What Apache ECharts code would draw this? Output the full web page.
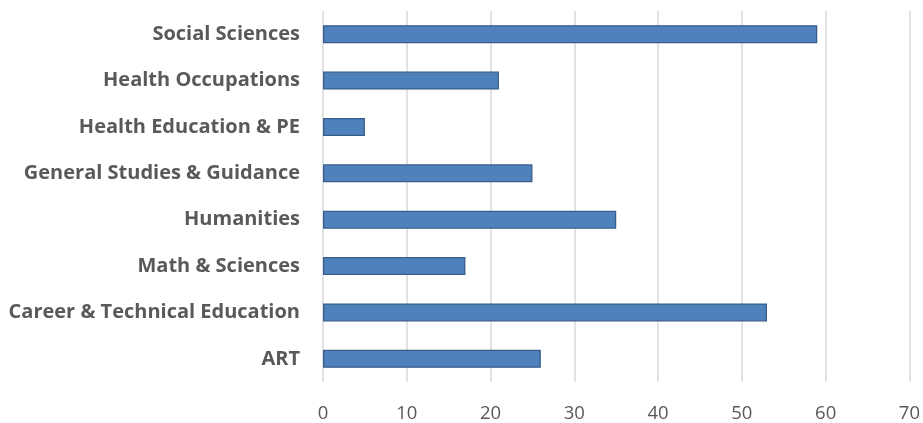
<!DOCTYPE html>
<html>
<head>
<meta charset="utf-8">
<script src="https://cdn.jsdelivr.net/npm/echarts@6/dist/echarts.min.js"></script>
<style>
  html, body { margin: 0; padding: 0; background: #fff; }
  #chart { width: 923px; height: 423px; }
</style>
</head>
<body>
<div id="chart"></div>
<script>
// Departments, listed top to bottom
const categories = [
  'Social Sciences',
  'Health Occupations',
  'Health Education & PE',
  'General Studies & Guidance',
  'Humanities',
  'Math & Sciences',
  'Career & Technical Education',
  'ART'
];
const values = [59, 21, 5, 25, 35, 17, 53, 26];
const xTicks = { min: 0, max: 70, interval: 10 };

const chart = echarts.init(document.getElementById('chart'));
chart.setOption({
  animation: false,
  grid: { left: 323, right: 13, top: 11, bottom: 41, containLabel: false },
  xAxis: {
    type: 'value',
    min: xTicks.min,
    max: xTicks.max,
    interval: xTicks.interval,
    axisLine: { show: false },
    axisTick: { show: false },
    splitLine: { show: true, lineStyle: { color: '#D9D9D9', width: 1.5 } },
    axisLabel: {
      color: '#595959',
      fontFamily: 'Open Sans',
      fontSize: 18.5,
      margin: 22
    }
  },
  yAxis: {
    type: 'category',
    inverse: true,
    data: categories,
    axisLine: { show: false },
    axisTick: { show: false },
    axisLabel: {
      color: '#595959',
      fontFamily: 'Open Sans',
      fontWeight: 'bold',
      fontSize: 20,
      margin: 23
    }
  },
  series: [{
    type: 'bar',
    data: values,
    barWidth: 18,
    itemStyle: { color: '#4F81BD', borderColor: '#385D8A', borderWidth: 1.3 }
  }]
});
</script>
</body>
</html>
